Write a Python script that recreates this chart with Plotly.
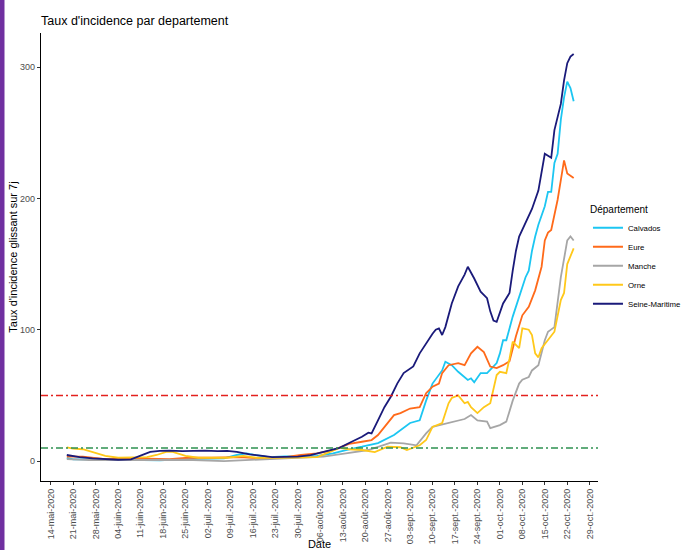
import plotly.graph_objects as go

# ---------------- data ----------------
sm_dates = ["2020-05-19","2020-05-23","2020-05-27","2020-05-31","2020-06-04","2020-06-08","2020-06-11",
            "2020-06-14","2020-06-17","2020-06-20","2020-06-24","2020-06-28","2020-07-01","2020-07-05",
            "2020-07-08","2020-07-11","2020-07-15","2020-07-19","2020-07-22","2020-07-26","2020-07-30",
            "2020-08-03","2020-08-06","2020-08-09","2020-08-12","2020-08-15","2020-08-19","2020-08-21",
            "2020-08-22","2020-08-24","2020-08-26","2020-08-28","2020-08-30","2020-09-01","2020-09-04",
            "2020-09-06","2020-09-08","2020-09-10","2020-09-11","2020-09-12","2020-09-13","2020-09-14",
            "2020-09-16","2020-09-18","2020-09-20","2020-09-21","2020-09-23","2020-09-25","2020-09-27",
            "2020-09-28","2020-09-29","2020-09-30","2020-10-02","2020-10-04","2020-10-05","2020-10-06",
            "2020-10-07","2020-10-09","2020-10-11","2020-10-13","2020-10-14","2020-10-15","2020-10-17",
            "2020-10-18","2020-10-20","2020-10-21","2020-10-22","2020-10-23","2020-10-24"]
sm_vals = [4.6,3,2,1.3,1,1.3,4,7,7.8,8,7.5,7.8,8,7.5,7.8,7,5,4,3,3.2,3.4,4.5,6.5,8.5,10,13.7,18.5,21.6,
           21,31,41,49,59,67,72,82,90,97,100,101,96,102,120,133,142,148,139,129,124,114,107,106,120,128,
           145,160,171,182,192,206,219,234,231,252,272,290,303,308,310]

cal_dates = ["2020-05-19","2020-05-21","2020-05-27","2020-06-04","2020-06-10","2020-06-17","2020-06-25",
             "2020-07-01","2020-07-07","2020-07-11","2020-07-14","2020-07-17","2020-07-21","2020-07-26",
             "2020-07-31","2020-08-05","2020-08-10","2020-08-14","2020-08-19","2020-08-24","2020-08-29",
             "2020-09-03","2020-09-06","2020-09-08","2020-09-10","2020-09-13","2020-09-14","2020-09-16",
             "2020-09-18","2020-09-21","2020-09-22","2020-09-23","2020-09-25","2020-09-27","2020-09-30",
             "2020-10-01","2020-10-02","2020-10-03","2020-10-05","2020-10-07","2020-10-09","2020-10-10",
             "2020-10-11","2020-10-12","2020-10-13","2020-10-15","2020-10-16","2020-10-17","2020-10-18",
             "2020-10-19","2020-10-20","2020-10-21","2020-10-22","2020-10-23","2020-10-24"]
cal_vals = [2.5,1.3,1.3,1.2,1,0.5,1.5,2,2,4.6,5.8,4.5,3,3.5,3.8,4,5.8,8.4,10.9,13.7,19.8,29,31,46,59,69,
            75.6,73,68,61.7,63,60,67,67,74.6,82,92,92,110,125,140,145,160,171,180,194,205,205,227,234,
            260,277,289,284,274]

eur_dates = ["2020-05-19","2020-05-24","2020-05-31","2020-06-10","2020-06-20","2020-06-26","2020-07-03",
             "2020-07-12","2020-07-19","2020-07-26","2020-07-31","2020-08-05","2020-08-10","2020-08-15",
             "2020-08-19","2020-08-22","2020-08-24","2020-08-27","2020-08-29","2020-08-31","2020-09-03",
             "2020-09-06","2020-09-08","2020-09-10","2020-09-12","2020-09-13","2020-09-15","2020-09-18",
             "2020-09-20","2020-09-22","2020-09-24","2020-09-26","2020-09-28","2020-09-30","2020-10-02",
             "2020-10-04","2020-10-06","2020-10-08","2020-10-10","2020-10-12","2020-10-14","2020-10-15",
             "2020-10-16","2020-10-17","2020-10-19","2020-10-21","2020-10-22","2020-10-24"]
eur_vals = [3.3,3.3,1.5,2,1.5,2.5,2.5,3,2,3,4.6,5.8,8.4,13,14.7,16,19.8,29,35,36.5,40,41,51.7,56.6,59,67,
            73,74.6,73,82,87,83,72,70.8,73,76,95,111,117.5,130,148,168,174,176,199,229,219,215.5]

man_dates = ["2020-05-19","2020-05-26","2020-06-10","2020-06-25","2020-07-07","2020-07-18","2020-07-28",
             "2020-08-07","2020-08-14","2020-08-21","2020-08-28","2020-09-01","2020-09-05","2020-09-08",
             "2020-09-10","2020-09-15","2020-09-18","2020-09-20","2020-09-22","2020-09-24","2020-09-27",
             "2020-09-28","2020-10-01","2020-10-03","2020-10-05","2020-10-07","2020-10-08","2020-10-10",
             "2020-10-11","2020-10-13","2020-10-15","2020-10-16","2020-10-18","2020-10-19","2020-10-20",
             "2020-10-22","2020-10-23","2020-10-24"]
man_vals = [1.5,0.8,0.8,1,0,1,2,3.3,5.8,8.4,14,13.5,12,21,26,29,31,32,35,31,30,25,27.4,30,46,59,62,64,69,
            73,92,98.5,102,122,140,168,171,168]

orn_dates = ["2020-05-19","2020-05-21","2020-05-24","2020-05-27","2020-05-31","2020-06-04","2020-06-09",
             "2020-06-13","2020-06-16","2020-06-19","2020-06-21","2020-06-25","2020-06-29","2020-07-03",
             "2020-07-08","2020-07-13","2020-07-17","2020-07-24","2020-07-30","2020-08-05","2020-08-09",
             "2020-08-12","2020-08-15","2020-08-19","2020-08-23","2020-08-27","2020-08-31","2020-09-02",
             "2020-09-06","2020-09-08","2020-09-10","2020-09-13","2020-09-15","2020-09-16","2020-09-18",
             "2020-09-20","2020-09-21","2020-09-22","2020-09-24","2020-09-26","2020-09-28","2020-09-30",
             "2020-10-01","2020-10-03","2020-10-04","2020-10-05","2020-10-07","2020-10-08","2020-10-10",
             "2020-10-11","2020-10-12","2020-10-13","2020-10-14","2020-10-16","2020-10-18","2020-10-20",
             "2020-10-21","2020-10-22","2020-10-24"]
orn_vals = [10.4,9.5,9,7,4,2.5,2.5,3,4.6,7,7,4,2.5,2.3,2.5,4,2.5,2.5,2.5,3,7,10,9,8.4,6.8,10.9,10.5,8.4,
            12,16,26,29,44,48,50,44,45,41,36.5,41,44,65.5,68,67,78,91,86,101,100,96,82,79,86,92,98.5,
            122.6,128,150,162]

series_names = ["Calvados", "Eure", "Manche", "Orne", "Seine-Maritime"]
series_dates = [cal_dates, eur_dates, man_dates, orn_dates, sm_dates]
series_vals = [cal_vals, eur_vals, man_vals, orn_vals, sm_vals]
series_colors = ["#1CC6F2", "#FF6A1A", "#A6A6A6", "#FFC81A", "#1A1A7A"]

thresholds = [50, 10]
threshold_colors = ["#E3211E", "#2E9150"]

tick_dates = ["2020-05-14","2020-05-21","2020-05-28","2020-06-04","2020-06-11","2020-06-18","2020-06-25",
              "2020-07-02","2020-07-09","2020-07-16","2020-07-23","2020-07-30","2020-08-06","2020-08-13",
              "2020-08-20","2020-08-27","2020-09-03","2020-09-10","2020-09-17","2020-09-24","2020-10-01",
              "2020-10-08","2020-10-15","2020-10-22","2020-10-29"]
tick_labels = ["14-mai-2020","21-mai-2020","28-mai-2020","04-juin-2020","11-juin-2020","18-juin-2020",
               "25-juin-2020","02-juil.-2020","09-juil.-2020","16-juil.-2020","23-juil.-2020","30-juil.-2020",
               "06-août-2020","13-août-2020","20-août-2020","27-août-2020","03-sept.-2020","10-sept.-2020",
               "17-sept.-2020","24-sept.-2020","01-oct.-2020","08-oct.-2020","15-oct.-2020","22-oct.-2020",
               "29-oct.-2020"]
y_ticks = [0, 100, 200, 300]

# ---------------- figure ----------------
FONT = "Arial, Liberation Sans, sans-serif"
W, H = 682, 550
ML, MR, MT, MB = 41, 84, 33, 69

fig = go.Figure()
for name, d, v, c in zip(series_names, series_dates, series_vals, series_colors):
    fig.add_trace(go.Scatter(x=d, y=v, mode="lines", name=name,
                             line=dict(color=c, width=1.8)))

for t, c in zip(thresholds, threshold_colors):
    fig.add_hline(y=t, line=dict(color=c, width=1.5, dash="7px,3px,2px,3px"), layer="above")

# purple border strip at the left edge of the screenshot
pw = W - ML - MR
ph = H - MT - MB
fig.add_shape(type="rect", xref="paper", yref="paper",
              x0=-ML / pw, x1=(4.5 - ML) / pw, y0=-MB / ph, y1=(H - MB) / ph,
              fillcolor="#7030A0", line=dict(width=0), layer="above")

fig.update_layout(
    width=W, height=H,
    margin=dict(l=ML, r=MR, t=MT, b=MB, autoexpand=False),
    paper_bgcolor="white", plot_bgcolor="white",
    font=dict(family=FONT, color="#000000"),
    title=dict(text="Taux d'incidence par departement", x=ML / W, xanchor="left",
               y=1 - 21 / H, yanchor="middle", yref="container",
               font=dict(size=12.5, color="#000000", family=FONT)),
    showlegend=True,
    legend=dict(title=dict(text="Département", font=dict(size=10, color="#000000")),
                font=dict(size=7.8, color="#000000"),
                x=0.982, xanchor="left", y=0.495, yanchor="middle",
                itemwidth=30, tracegroupgap=0, bgcolor="rgba(0,0,0,0)"),
    xaxis=dict(type="date", range=["2020-05-10 23:00", "2020-10-31 14:00"],
               tickmode="array", tickvals=tick_dates, ticktext=tick_labels, tickangle=-90,
               tickfont=dict(size=9, color="#4D4D4D"),
               ticks="outside", ticklen=3, tickcolor="#333333", tickwidth=1,
               showline=True, linecolor="#000000", linewidth=1.2, showgrid=False, zeroline=False,
               title=dict(text="Date", font=dict(size=11, color="#000000"), standoff=0),
               automargin=False),
    yaxis=dict(range=[-15.2, 326], tickmode="array", tickvals=y_ticks,
               tickfont=dict(size=9, color="#4D4D4D"),
               ticks="outside", ticklen=3, tickcolor="#333333", tickwidth=1,
               showline=True, linecolor="#000000", linewidth=1.2, showgrid=False, zeroline=False,
               title=dict(text="Taux d'incidence glissant sur 7j", font=dict(size=11, color="#000000"),
                          standoff=0),
               automargin=False),
)

fig.write_html("out.html", config={"displayModeBar": False},
               post_script="document.body.style.margin='0px';")
